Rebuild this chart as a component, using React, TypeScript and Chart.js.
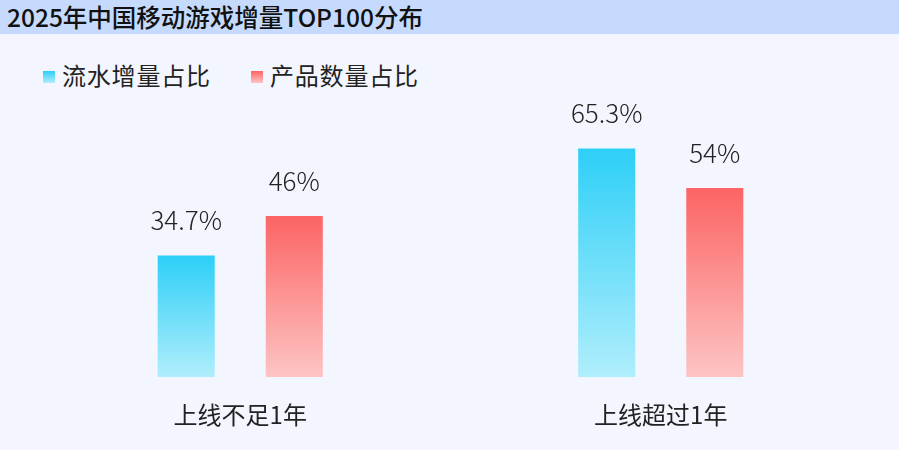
import { useEffect, useRef } from "react";
import Chart from "chart.js/auto";

const TITLE = "2025年中国移动游戏增量TOP100分布";
const CATEGORIES = ["上线不足1年", "上线超过1年"];
const SERIES_NAMES = ["流水增量占比", "产品数量占比"];
const FLOW_SHARE = [34.7, 65.3];
const COUNT_SHARE = [46, 54];

const GRADIENTS: [string, string][] = [
  ["#2dcff7", "#b0eefc"],
  ["#fc6464", "#fdc4c4"],
];

const FONT = '"Noto Sans CJK SC", "Noto Sans", sans-serif';

// draw value labels above each bar
const valueLabels = {
  id: "valueLabels",
  afterDatasetsDraw(chart: any) {
    const { ctx } = chart;
    ctx.save();
    ctx.font = `300 26px ${FONT}`;
    ctx.fillStyle = "#222";
    ctx.textAlign = "center";
    ctx.textBaseline = "middle";
    chart.data.datasets.forEach((ds: any, i: number) => {
      chart.getDatasetMeta(i).data.forEach((bar: any, j: number) => {
        ctx.fillText(ds.data[j] + "%", bar.x, bar.y - 35);
      });
    });
    ctx.restore();
  },
};

function barGradient(idx: number) {
  return (c: any) => {
    const { chart, raw } = c;
    const y = chart.scales?.y;
    if (!chart.chartArea || !y || raw == null) return GRADIENTS[idx][0];
    const top = y.getPixelForValue(raw);
    const bottom = y.getPixelForValue(0);
    const g = chart.ctx.createLinearGradient(0, top, 0, bottom);
    g.addColorStop(0, GRADIENTS[idx][0]);
    g.addColorStop(1, GRADIENTS[idx][1]);
    return g;
  };
}

export default function App() {
  const chartRef = useRef<HTMLCanvasElement>(null);

  useEffect(() => {
    document.body.style.margin = "0";
    if (!chartRef.current) return;
    const chart = new Chart(chartRef.current, {
      type: "bar",
      data: {
        labels: CATEGORIES,
        datasets: [
          { label: SERIES_NAMES[0], data: FLOW_SHARE, backgroundColor: barGradient(0) },
          { label: SERIES_NAMES[1], data: COUNT_SHARE, backgroundColor: barGradient(1) },
        ],
      },
      options: {
        animation: false,
        responsive: false,
        maintainAspectRatio: false,
        layout: { padding: { left: 30, right: 28, top: 97, bottom: 0 } },
        datasets: { bar: { categoryPercentage: 0.514, barPercentage: 0.528 } },
        plugins: { legend: { display: false }, tooltip: { enabled: false } },
        scales: {
          x: {
            grid: { display: false, drawTicks: false },
            border: { display: false },
            ticks: { color: "#222", font: { family: FONT, size: 24 }, padding: 23 },
            afterFit: (s: any) => {
              s.height = 73;
            },
          },
          y: { display: false, min: 0, max: 80 },
        },
      },
      plugins: [valueLabels],
    });
    return () => chart.destroy();
  }, []);

  const legendItem = (name: string, idx: number, left: number) => (
    <div
      key={name}
      style={{ position: "absolute", left, top: 62, display: "flex", alignItems: "center", height: 30 }}
    >
      <span
        style={{
          width: 12,
          height: 12,
          display: "inline-block",
          background: `linear-gradient(${GRADIENTS[idx][0]}, ${GRADIENTS[idx][1]})`,
          marginRight: 7,
        }}
      />
      <span style={{ fontSize: 24, color: "#222", lineHeight: "30px", letterSpacing: 0.8, position: "relative", top: -2 }}>
        {name}
      </span>
    </div>
  );

  return (
    <div style={{ position: "relative", width: 899, height: 450, background: "#f3f6fe", fontFamily: FONT, overflow: "hidden" }}>
      <div
        style={{
          position: "absolute",
          left: 0,
          top: 0,
          width: 899,
          height: 34,
          background: "#c6dafe",
          fontSize: 24.5,
          fontWeight: 500,
          color: "#111",
          lineHeight: "34px",
          paddingLeft: 7,
          boxSizing: "border-box",
        }}
      >
        {TITLE}
      </div>
      {legendItem(SERIES_NAMES[0], 0, 43)}
      {legendItem(SERIES_NAMES[1], 1, 251)}
      <canvas ref={chartRef} width={899} height={450} style={{ position: "absolute", left: 0, top: 0 }} />
    </div>
  );
}
